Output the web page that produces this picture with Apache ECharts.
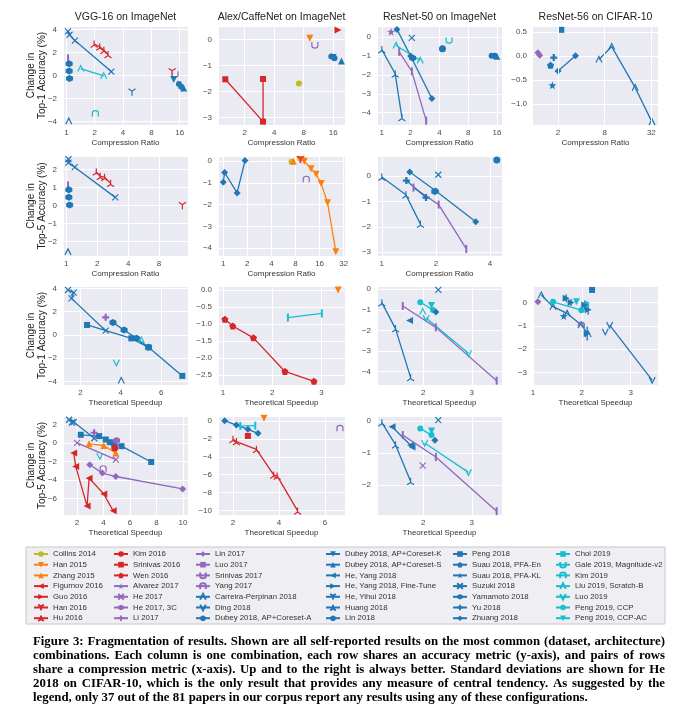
<!DOCTYPE html>
<html><head><meta charset="utf-8">
<script src="https://cdn.jsdelivr.net/npm/echarts@6/dist/echarts.min.js"></script>
<style>html,body{margin:0;padding:0;background:#fff}#c{width:695px;height:715px}</style>
</head><body><div id="c"></div>
<script>
// ---------------- DATA ----------------
const papers = ['Collins 2014','Han 2015','Zhang 2015','Figurnov 2016','Guo 2016','Han 2016','Hu 2016',
 'Kim 2016','Srinivas 2016','Wen 2016','Alvarez 2017','He 2017','He 2017, 3C','Li 2017',
 'Lin 2017','Luo 2017','Srinivas 2017','Yang 2017','Carreira-Perpinan 2018','Ding 2018','Dubey 2018, AP+Coreset-A',
 'Dubey 2018, AP+Coreset-K','Dubey 2018, AP+Coreset-S','He, Yang 2018','He, Yang 2018, Fine-Tune','He, Yihui 2018','Huang 2018','Lin 2018',
 'Peng 2018','Suau 2018, PFA-En','Suau 2018, PFA-KL','Suzuki 2018','Yamamoto 2018','Yu 2018','Zhuang 2018',
 'Choi 2019','Gale 2019, Magnitude-v2','Kim 2019','Liu 2019, Scratch-B','Luo 2019','Peng 2019, CCP','Peng 2019, CCP-AC'];

const columnTitles = ['VGG-16 on ImageNet','Alex/CaffeNet on ImageNet','ResNet-50 on ImageNet','ResNet-56 on CIFAR-10'];
const rowYNames = ['Change in\nTop-1 Accuracy (%)','Change in\nTop-5 Accuracy (%)','Change in\nTop-1 Accuracy (%)','Change in\nTop-5 Accuracy (%)'];
const rowXNames = ['Compression Ratio','Compression Ratio','Theoretical Speedup','Theoretical Speedup'];

// Row 1: Top-1 vs compression ratio
const vggTop1CR = [
 ['Suzuki 2018', [[1.04,3.83],[1.08,3.54],[1.23,3.03],[3.0,0.34]]],
 ['Hu 2016', [[1.97,2.74],[2.26,2.49],[2.5,2.2],[2.77,1.83]]],
 ['Liu 2019, Scratch-B', [[1.42,0.6],[2.49,-0.03]]],
 ['Luo 2017', [[1.04,1.49]]],
 ['Yamamoto 2018', [[1.07,1.03]]],
 ['Yamamoto 2018', [[1.07,0.4]]],
 ['Yamamoto 2018', [[1.08,-0.26]]],
 ['Carreira-Perpinan 2018', [[1.06,-3.97]]],
 ['Kim 2019', [[2.03,-3.31]]],
 ['He, Yihui 2018', [[4.98,-1.46]]],
 ['Han 2016', [[13.3,0.31]]],
 ['Srinivas 2017', [[14.3,0.11]]],
 ['Dubey 2018, AP+Coreset-K', [[13.8,-0.34]]],
 ['Dubey 2018, AP+Coreset-A', [[15.7,-0.74],[16.6,-0.97]]],
 ['Dubey 2018, AP+Coreset-S', [[17.6,-1.09]]]
];
const alexTop1CR = [
 ['Srinivas 2016', [[1.27,-1.53],[3.08,-3.15],[3.08,-1.52]]],
 ['Collins 2014', [[7.15,-1.69]]],
 ['Han 2015', [[9.24,0.04]]],
 ['Srinivas 2017', [[10.4,-0.22]]],
 ['Guo 2016', [[17.9,0.36]]],
 ['Dubey 2018, AP+Coreset-A', [[15.3,-0.66],[16.5,-0.72]]],
 ['Dubey 2018, AP+Coreset-K', [[16.0,-0.7]]],
 ['Dubey 2018, AP+Coreset-S', [[19.4,-0.83]]]
];
const r50Top1CR = [
 ['Huang 2018', [[1.0,-0.66],[1.38,-1.94],[1.62,-4.25]]],
 ['Luo 2017', [[1.52,-0.78],[2.06,-1.81],[2.91,-4.42]]],
 ['Alvarez 2017', [[1.25,0.28]]],
 ['Zhuang 2018', [[1.44,0.41],[2.0,-1.0],[3.34,-3.25]]],
 ['Suzuki 2018', [[2.06,-0.04]]],
 ['Liu 2019, Scratch-B', [[1.41,-0.44],[2.52,-1.23]]],
 ['Gale 2019, Magnitude-v2', [[5.06,-0.16]]],
 ['Lin 2018', [[4.31,-0.62]]],
 ['Yamamoto 2018', [[2.1,-1.1]]],
 ['Dubey 2018, AP+Coreset-A', [[14.1,-0.98],[15.1,-0.98]]],
 ['Dubey 2018, AP+Coreset-S', [[16.0,-1.01]]]
];
const r56Top1CR = [
 ['Lin 2017', [[1.1,0.07],[1.16,0.02]]],
 ['Suau 2018, PFA-En', [[1.6,-0.19]]],
 ['Yu 2018', [[1.76,-0.03]]],
 ['Suau 2018, PFA-KL', [[1.69,-0.61]]],
 ['Peng 2018', [[2.2,0.55]]],
 ['Zhuang 2018', [[2.0,-0.31],[3.36,0.01]]],
 ['Carreira-Perpinan 2018', [[6.75,-0.07],[9.85,0.2],[19.8,-0.66],[32.7,-1.38]]]
];
const r56GridTicks = [2, 8, 32];

// Row 2: Top-5 vs compression ratio
const vggTop5CR = [
 ['Suzuki 2018', [[1.05,2.57],[1.05,2.38],[1.21,2.13],[3.0,0.45]]],
 ['Hu 2016', [[1.96,1.87],[2.14,1.62],[2.36,1.57],[2.7,1.23]]],
 ['Luo 2017', [[1.04,1.11]]],
 ['Yamamoto 2018', [[1.06,0.87]]],
 ['Yamamoto 2018', [[1.06,0.45]]],
 ['Yamamoto 2018', [[1.08,0.02]]],
 ['Carreira-Perpinan 2018', [[1.04,-2.58]]],
 ['Han 2016', [[13.5,-0.02]]]
];
const alexTop5CR = [
 ['Zhuang 2018', [[1.0,-0.97],[1.04,-0.52],[1.49,-1.46],[1.87,0.03]]],
 ['Collins 2014', [[7.14,-0.03]]],
 ['Zhang 2015', [[7.5,0.0]]],
 ['Han 2015', [[9.0,0.08],[10.3,0.0],[12.5,-0.35],[14.5,-0.6],[16.7,-1.02],[20.1,-1.91],[25.5,-4.16]]],
 ['Han 2016', [[9.3,0.07]]],
 ['Yang 2017', [[10.9,-0.83]]]
];
const r50Top5CR = [
 ['Huang 2018', [[1.0,-0.03],[1.36,-0.73],[1.64,-1.89]]],
 ['Luo 2017', [[1.5,-0.45],[2.07,-1.12],[2.95,-2.87]]],
 ['Zhuang 2018', [[1.43,0.17],[2.0,-0.58],[3.33,-1.8]]],
 ['Suzuki 2018', [[2.06,0.06]]],
 ['Yamamoto 2018', [[1.97,-0.6]]],
 ['Yu 2018', [[1.37,-0.17],[1.76,-0.84]]],
 ['Lin 2018', [[4.36,0.64]]]
];

// Row 3: Top-1 vs theoretical speedup
const vggTop1SU = [
 ['Suzuki 2018', [[1.39,3.86],[1.67,3.63],[1.56,3.14],[3.25,0.37]]],
 ['Peng 2018', [[2.33,0.86],[4.52,-0.29],[5.37,-1.06],[7.04,-3.51]]],
 ['Yamamoto 2018', [[3.61,1.06],[4.16,0.43],[4.77,-0.29],[5.37,-1.06]]],
 ['Li 2017', [[3.25,1.51]]],
 ['Liu 2019, Scratch-B', [[5.01,-0.43]]],
 ['Luo 2019', [[3.78,-2.37]]],
 ['Carreira-Perpinan 2018', [[4.02,-3.91]]]
];
const alexTop1SU = [
 ['Wen 2016', [[1.04,-0.86],[1.2,-1.06],[1.62,-1.41],[2.26,-2.4],[2.85,-2.69]]],
 ['Choi 2019', [[2.32,-0.81],[3.01,-0.69]]],
 ['Han 2015', [[3.34,0.0]]]
];
const r50Top1SU = [
 ['Huang 2018', [[1.15,-0.65],[1.43,-1.91],[1.74,-4.28]]],
 ['Luo 2017', [[1.58,-0.81],[2.26,-1.85],[3.51,-4.44]]],
 ['Luo 2019', [[2.06,-1.4],[2.93,-3.11]]],
 ['Liu 2019, Scratch-B', [[1.99,-1.08]]],
 ['Peng 2019, CCP', [[1.94,-0.63],[2.2,-1.0]]],
 ['Peng 2019, CCP-AC', [[2.17,-0.79]]],
 ['Suzuki 2018', [[2.31,-0.03]]],
 ['He, Yang 2018', [[1.72,-1.52]]],
 ['Zhuang 2018', [[2.26,-1.1]]]
];
const r56Top1SU = [
 ['Lin 2017', [[1.1,0.04]]],
 ['Carreira-Perpinan 2018', [[1.17,0.33],[1.41,-0.17],[1.7,-0.46],[1.99,-0.96],[2.13,-1.35]]],
 ['Peng 2019, CCP', [[1.41,0.04],[1.99,-0.32]]],
 ['Peng 2019, CCP', [[2.09,-0.06]]],
 ['Peng 2019, CCP-AC', [[1.89,0.04]]],
 ['Peng 2018', [[2.21,0.55]]],
 ['Ding 2018', [[2.57,-0.96],[3.44,-3.33]]],
 ['Ding 2018', [[2.48,-1.25]]],
 ['Suau 2018, PFA-KL', [[1.63,-0.57]]],
 ['Yang 2017', [[1.99,-0.96]]],
 ['He, Yang 2018, Fine-Tune', [[1.68,0.19]]],
 ['He, Yang 2018, Fine-Tune', [[1.78,0.01]]],
 ['He, Yang 2018, Fine-Tune', [[2.06,-0.1]]],
 ['He, Yang 2018, Fine-Tune', [[2.13,-0.3]]],
 ['He, Yang 2018, Fine-Tune', [[2.11,-1.32]]]
];
// [x, y, standard deviation]
const r56Top1SUStd = [[1.68,0.19,0.18],[1.78,0.01,0.15],[2.06,-0.1,0.2],[2.13,-0.3,0.22],[2.11,-1.32,0.3]];

// Row 4: Top-5 vs theoretical speedup
const vggTop5SU = [
 ['Suzuki 2018', [[1.4,2.5],[1.75,2.25],[1.6,2.2],[3.3,0.5]]],
 ['Peng 2018', [[2.28,0.87],[3.67,0.73],[4.17,0.36],[4.47,0.07],[4.78,-0.07],[5.36,-0.36],[7.6,-2.07]]],
 ['Li 2017', [[3.29,1.09]]],
 ['He 2017, 3C', [[4.98,0.25]]],
 ['Zhang 2015', [[2.91,-0.11],[4.02,-0.29],[4.93,-1.09]]],
 ['Kim 2016', [[4.85,-0.55]]],
 ['He 2017', [[2.0,0.0],[4.93,-1.82]]],
 ['Luo 2019', [[3.72,-1.45]]],
 ['Yang 2017', [[3.97,-2.8]]],
 ['Lin 2017', [[2.96,-2.36],[3.92,-3.27],[4.93,-3.64],[9.98,-4.98]]],
 ['Figurnov 2016', [[1.75,-1.09],[1.9,-2.55],[2.76,-6.84],[2.91,-3.82],[4.02,-5.53],[4.73,-7.35]]]
];
const alexTop5SU = [
 ['Zhuang 2018', [[1.64,0.04],[2.15,-0.45],[2.65,-0.93],[3.09,-1.38]]],
 ['Choi 2019', [[2.32,-0.56],[2.97,-0.52]]],
 ['Srinivas 2016', [[2.65,-1.67]]],
 ['Han 2015', [[3.35,0.3]]],
 ['Yang 2017', [[6.65,-0.82]]],
 ['Hu 2016', [[2.0,-2.04],[2.15,-2.3],[3.02,-3.16],[3.77,-6.02],[3.92,-6.13],[4.81,-10.04]]]
];
const r50Top5SU = [
 ['Huang 2018', [[1.15,-0.05],[1.43,-0.74],[1.74,-1.89]]],
 ['Luo 2017', [[1.58,-0.44],[2.26,-1.13],[3.51,-2.83]]],
 ['Luo 2019', [[2.03,-0.69],[2.93,-1.61]]],
 ['Peng 2019, CCP', [[1.94,-0.23],[2.17,-0.44]]],
 ['Peng 2019, CCP-AC', [[2.17,-0.31]]],
 ['Suzuki 2018', [[2.31,0.03]]],
 ['He, Yang 2018', [[1.36,-0.18],[1.74,-0.76],[1.77,-0.81]]],
 ['Zhuang 2018', [[2.24,-0.6]]],
 ['He 2017', [[1.99,-1.4]]]
];

const captionLines = [
 'Figure 3: Fragmentation of results. Shown are all self-reported results on the most common (dataset, architecture)',
 'combinations. Each column is one combination, each row shares an accuracy metric (y-axis), and pairs of rows',
 'share a compression metric (x-axis). Up and to the right is always better. Standard deviations are shown for He',
 '2018 on CIFAR-10, which is the only result that provides any measure of central tendency. As suggested by the',
 'legend, only 37 out of the 81 papers in our corpus report any results using any of these configurations.'
];

// ---------------- STYLE / LAYOUT ----------------
const yearColor = {2014:'#bcbd22',2015:'#ff7f0e',2016:'#d62728',2017:'#9467bd',2018:'#1f77b4',2019:'#17becf'};
const SYM = [
 {s:'circle', size:6},
 {s:'triangle', r:180, size:7},
 {s:'triangle', size:7},
 {s:'triangle', r:90, size:7},
 {s:'triangle', r:-90, size:7},
 {s:'path://M0,0L0,10M0,0L-8.66,-5M0,0L8.66,-5', stroke:true, size:7},
 {s:'path://M0,0L0,-10M0,0L-8.66,5M0,0L8.66,5', stroke:true, size:7},
 {s:'circle', size:7},
 {s:'rect', size:6},
 {s:'path://M0,-5L4.76,-1.55L2.94,4.05L-2.94,4.05L-4.76,-1.55Z', size:7},
 {s:'path://M0,-5L1.18,-1.62L4.76,-1.55L1.9,0.62L2.94,4.05L0,2L-2.94,4.05L-1.9,0.62L-4.76,-1.55L-1.18,-1.62Z', size:8},
 {s:'path://M-5,-5L5,5M-5,5L5,-5', stroke:true, size:6},
 {s:'path://M0,-5L4.33,-2.5L4.33,2.5L0,5L-4.33,2.5L-4.33,-2.5Z', size:7},
 {s:'path://M-1.6,-5L1.6,-5L1.6,-1.6L5,-1.6L5,1.6L1.6,1.6L1.6,5L-1.6,5L-1.6,1.6L-5,1.6L-5,-1.6L-1.6,-1.6Z', size:7},
 {s:'diamond', size:7},
 {s:'path://M-0.7,-5L0.7,-5L0.7,5L-0.7,5Z', size:[2,8]},
 {s:'path://M-4,-5L-4,1Q-4,5,0,5Q4,5,4,1L4,-5', stroke:true, size:6},
 {s:'path://M-4,5L-4,-1Q-4,-5,0,-5Q4,-5,4,-1L4,5', stroke:true, size:6},
 {s:'path://M-5,4L0,-4L5,4', stroke:true, size:6},
 {s:'path://M-5,-4L0,4L5,-4', stroke:true, size:6}
];
const colX = [[63,125],[218,127],[377,125],[533,125]];
const rowY = [[26,99],[156,100],[286,99],[416,99]];

const panels = [
 {r:0,c:0,data:vggTop1CR,log:true,xMin:0.92,xMax:19.6,yMin:-4.3,yMax:4.3,yStep:2},
 {r:0,c:1,data:alexTop1CR,log:true,xMin:1.07,xMax:21.1,yMin:-3.28,yMax:0.51,yStep:1},
 {r:0,c:2,data:r50Top1CR,log:true,xMin:0.89,xMax:18.1,yMin:-4.65,yMax:0.59,yStep:1},
 {r:0,c:3,data:r56Top1CR,log:true,xMin:0.95,xMax:39,yMin:-1.44,yMax:0.63,yStep:0.5,only:r56GridTicks},
 {r:1,c:0,data:vggTop5CR,log:true,xMin:0.93,xMax:15.3,yMin:-2.81,yMax:2.75,yStep:1},
 {r:1,c:1,data:alexTop5CR,log:true,xMin:0.86,xMax:33.2,yMin:-4.36,yMax:0.24,yStep:1},
 {r:1,c:2,data:r50Top5CR,log:true,xMin:0.94,xMax:4.66,yMin:-3.15,yMax:0.8,yStep:1},
 {r:2,c:0,data:vggTop1SU,xMin:1.14,xMax:7.32,xStep:2,yMin:-4.29,yMax:4.2,yStep:2},
 {r:2,c:1,data:alexTop1SU,xMin:0.9,xMax:3.48,xStep:1,yMin:-2.8,yMax:0.12,yStep:0.5},
 {r:2,c:2,data:r50Top1SU,xMin:1.05,xMax:3.62,xStep:1,yMin:-4.65,yMax:0.16,yStep:1},
 {r:2,c:3,data:r56Top1SU,xMin:1.0,xMax:3.56,xStep:1,yMin:-3.54,yMax:0.72,yStep:1,err:r56Top1SUStd},
 {r:3,c:0,data:vggTop5SU,xMin:0.94,xMax:10.38,xStep:2,yMin:-7.8,yMax:2.9,yStep:2},
 {r:3,c:1,data:alexTop5SU,xMin:1.35,xMax:6.87,xStep:2,yMin:-10.5,yMax:0.56,yStep:2},
 {r:3,c:2,data:r50Top5SU,xMin:1.05,xMax:3.62,xStep:1,yMin:-2.95,yMax:0.16,yStep:1}
];

const FONT = 'Liberation Sans';
const tickColor = '#4a4a4a';
const onTick = (v, s) => Math.abs(v / s - Math.round(v / s)) < 1e-9;
const minus = s => s.replace('-', '\u2212');

const grid = [], xAxis = [], yAxis = [], series = [];
panels.forEach((p, k) => {
  const [gl, gw] = colX[p.c], [gt, gh] = rowY[p.r];
  grid.push({left: gl, top: gt, width: gw, height: gh, show: true, backgroundColor: '#EAEAF2', borderWidth: 0, containLabel: false, outerBoundsMode: 'none'});
  const xa = {
    gridIndex: k, min: p.xMin, max: p.xMax,
    axisLine: {show: false}, axisTick: {show: false},
    splitLine: {show: !p.only, lineStyle: {color: '#fff', width: 1}},
    axisLabel: {fontSize: 8, color: tickColor, margin: 4, fontFamily: FONT, hideOverlap: false},
    name: rowXNames[p.r], nameLocation: 'middle', nameGap: 14, nameMoveOverlap: false,
    nameTextStyle: {fontSize: 8, color: '#333', fontFamily: FONT}
  };
  if (p.log) {
    xa.type = 'log'; xa.logBase = 2;
    xa.axisLabel.showMinLabel = false; xa.axisLabel.showMaxLabel = false;
    xa.axisLabel.formatter = v => {
      const r = Math.round(v);
      if (Math.abs(v - r) > 1e-6 * Math.max(1, v)) return '';
      if (p.only && p.only.indexOf(r) < 0) return '';
      return String(r);
    };
  } else {
    xa.type = 'value'; xa.minInterval = p.xStep; xa.maxInterval = p.xStep; xa.splitNumber = 4;
    xa.axisLabel.showMinLabel = onTick(p.xMin, p.xStep); xa.axisLabel.showMaxLabel = onTick(p.xMax, p.xStep);
    xa.axisLabel.formatter = v => onTick(v, p.xStep) ? minus(String(Math.round(v))) : '';
  }
  xAxis.push(xa);
  const dec = p.yStep < 1 ? 1 : 0;
  yAxis.push({
    type: 'value', gridIndex: k, min: p.yMin, max: p.yMax, minInterval: p.yStep, maxInterval: p.yStep, splitNumber: 5,
    axisLine: {show: false}, axisTick: {show: false},
    splitLine: {show: true, lineStyle: {color: '#fff', width: 1}},
    axisLabel: {fontSize: 8, color: tickColor, margin: 6, fontFamily: FONT,
      showMinLabel: onTick(p.yMin, p.yStep), showMaxLabel: onTick(p.yMax, p.yStep),
      formatter: v => onTick(v, p.yStep) ? minus((Math.abs(v) < 1e-9 ? 0 : v).toFixed(dec)) : ''},
    name: p.c === 0 ? rowYNames[p.r] : '', nameLocation: 'middle', nameGap: 16, nameRotate: 90, nameMoveOverlap: false,
    nameTextStyle: {fontSize: 10, lineHeight: 10.5, color: '#222', fontFamily: FONT}
  });
  p.data.forEach(([name, pts]) => {
    const i = papers.indexOf(name);
    const color = yearColor[name.match(/(\d{4})/)[1]];
    const m = SYM[i % 20];
    series.push({
      type: 'line', name, xAxisIndex: k, yAxisIndex: k, data: pts,
      symbol: m.s, symbolSize: m.size, symbolRotate: m.r || 0, showSymbol: true,
      lineStyle: {color, width: 1.3},
      itemStyle: m.stroke ? {color: 'rgba(0,0,0,0)', borderColor: color, borderWidth: 1.2} : {color, borderWidth: 0},
      emphasis: {disabled: true}, animation: false, z: 3
    });
  });
  if (p.only) {
    series.push({type: 'line', xAxisIndex: k, yAxisIndex: k, data: [], z: 1, silent: true,
      markLine: {silent: true, animation: false, symbol: ['none', 'none'], label: {show: false},
        lineStyle: {color: '#fff', width: 1, type: 'solid'}, emphasis: {disabled: true},
        data: p.only.map(v => ({xAxis: v}))}});
  }
  if (p.err) {
    const color = yearColor[2018];
    series.push({type: 'custom', xAxisIndex: k, yAxisIndex: k, data: p.err, z: 3, silent: true, animation: false,
      renderItem: (params, api) => {
        const a = api.coord([api.value(0), api.value(1) + api.value(2)]);
        const b = api.coord([api.value(0), api.value(1) - api.value(2)]);
        return {type: 'line', shape: {x1: a[0], y1: a[1], x2: b[0], y2: b[1]}, style: {stroke: color, lineWidth: 1.3}};
      }});
  }
});

// graphics: titles, legend box, caption
const graphic = [];
columnTitles.forEach((t, c) => {
  graphic.push({type: 'text', x: colX[c][0] + colX[c][1] / 2, y: 17, silent: true,
    style: {text: t, font: '10.5px "Liberation Sans"', fill: '#222', textAlign: 'center', textVerticalAlign: 'middle'}});
});
graphic.push({type: 'rect', shape: {x: 26, y: 547, width: 639, height: 77}, silent: true, z: -1,
  style: {fill: '#EEEEF3', stroke: '#C8C8CC', lineWidth: 1}});

const capFont = 'bold 12.8px "Liberation Serif"';
const ctx = document.createElement('canvas').getContext('2d');
ctx.font = capFont;
const capLeft = 33, capRight = 665, capTop = 642, capLH = 13.8;
captionLines.forEach((line, li) => {
  const words = line.split(' ');
  const widths = words.map(w => ctx.measureText(w).width);
  const total = widths.reduce((a, b) => a + b, 0);
  const last = li === captionLines.length - 1;
  const gap = last ? ctx.measureText(' ').width : (capRight - capLeft - total) / (words.length - 1);
  let x = capLeft;
  words.forEach((w, wi) => {
    graphic.push({type: 'text', x: x, y: capTop + li * capLH, silent: true,
      style: {text: w, font: capFont, fill: '#000', textAlign: 'left', textVerticalAlign: 'middle'}});
    x += widths[wi] + gap;
  });
});

const legendLefts = [33, 113, 195, 325, 452, 555];
const legend = legendLefts.map((l, ci) => ({
  orient: 'vertical', left: l, top: 550, padding: 0, itemWidth: 14, itemHeight: 7, itemGap: 2.7,
  selectedMode: false, data: papers.slice(ci * 7, ci * 7 + 7),
  textStyle: {fontSize: 7.8, color: '#333', fontFamily: FONT}
}));

const chart = echarts.init(document.getElementById('c'), null, {renderer: 'canvas'});
chart.setOption({
  animation: false, backgroundColor: '#fff',
  textStyle: {fontFamily: FONT},
  grid, xAxis, yAxis, series, legend, graphic
});
</script></body></html>
